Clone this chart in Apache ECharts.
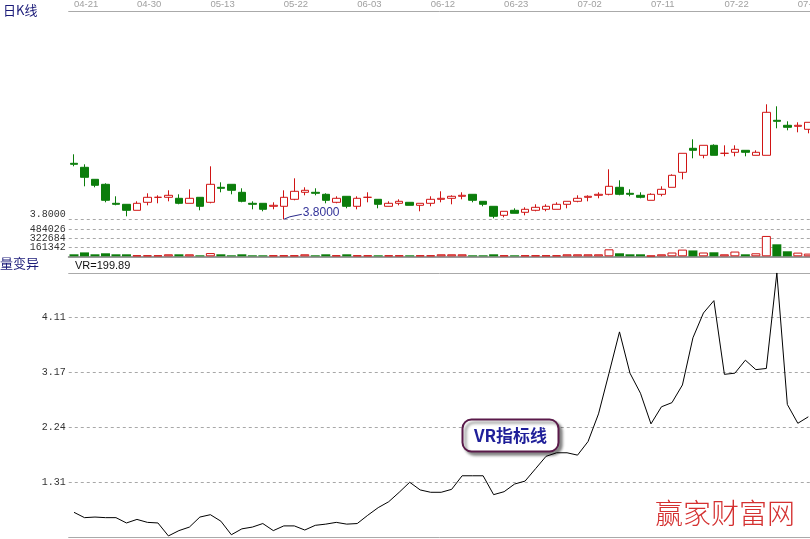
<!DOCTYPE html>
<html><head><meta charset="utf-8">
<script src="https://cdn.jsdelivr.net/npm/echarts@6/dist/echarts.min.js"></script>
<style>html,body{margin:0;padding:0;background:#fff}#c{width:810px;height:539px}</style>
</head><body><div id="c"></div>
<script>
const dates = ['04-21','04-22','04-23','04-25','04-28','04-29','04-30','05-05','05-06','05-07','05-08','05-09','05-12','05-13','05-14','05-15','05-16','05-19','05-20','05-21','05-22','05-23','05-26','05-27','05-28','05-29','05-30','06-03','06-04','06-05','06-06','06-09','06-10','06-11','06-12','06-13','06-16','06-17','06-18','06-19','06-20','06-23','06-24','06-25','06-26','06-27','06-30','07-01','07-02','07-03','07-04','07-07','07-08','07-09','07-10','07-11','07-14','07-15','07-16','07-17','07-18','07-21','07-22','07-23','07-24','07-25','07-28','07-29','07-30','07-31','08-01'];
const dateLabelIdx = [0,6,13,20,27,34,41,48,55,62,69];
const opens = [4.36,4.32,4.20,4.15,3.96,3.95,3.89,3.97,4.02,4.02,
4.01,3.96,4.02,3.97,4.12,4.15,4.07,3.96,3.96,3.93,
3.93,4.00,4.07,4.07,4.05,3.97,4.03,3.93,4.02,4.00,
3.93,3.96,3.97,3.94,3.96,4.00,4.01,4.03,4.05,3.98,
3.93,3.84,3.89,3.87,3.89,3.90,3.90,3.95,3.98,4.02,
4.04,4.05,4.12,4.06,4.04,3.99,4.05,4.12,4.27,4.51,
4.44,4.54,4.46,4.47,4.49,4.44,4.44,4.79,4.74,4.73,
4.70];
const closes = [4.35,4.22,4.14,3.99,3.95,3.89,3.96,4.02,4.02,4.04,
3.96,4.01,3.93,4.15,4.11,4.09,3.98,3.95,3.90,3.94,
4.02,4.08,4.09,4.06,3.99,4.01,3.93,4.01,4.02,3.95,
3.96,3.98,3.94,3.96,4.00,4.01,4.03,4.04,3.99,3.95,
3.83,3.88,3.86,3.90,3.92,3.93,3.95,3.98,4.01,4.03,
4.05,4.13,4.05,4.05,4.02,4.05,4.10,4.24,4.46,4.49,
4.54,4.44,4.46,4.50,4.47,4.47,4.87,4.78,4.72,4.74,
4.77];
const lows = [4.33,4.13,4.12,3.97,3.94,3.83,3.89,3.94,3.96,3.98,
3.95,3.96,3.89,3.96,4.07,4.05,3.97,3.90,3.88,3.90,
3.80,3.99,4.04,4.04,3.96,3.96,3.91,3.90,3.97,3.91,
3.93,3.94,3.94,3.88,3.93,3.97,3.95,4.00,3.97,3.93,
3.81,3.82,3.86,3.84,3.88,3.88,3.90,3.91,3.97,3.98,
4.01,4.04,4.04,4.03,4.01,3.99,4.03,4.12,4.20,4.41,
4.41,4.44,4.43,4.43,4.43,4.44,4.44,4.71,4.69,4.67,
4.66];
const highs = [4.45,4.35,4.20,4.16,4.03,3.95,3.98,4.06,4.04,4.09,
4.05,4.10,4.02,4.33,4.17,4.15,4.11,3.98,3.96,3.97,
4.09,4.21,4.12,4.11,4.06,4.03,4.03,4.03,4.07,4.00,
3.98,4.00,3.97,3.96,4.03,4.08,4.04,4.07,4.05,3.98,
3.93,3.88,3.91,3.92,3.95,3.95,3.97,3.98,4.04,4.04,
4.07,4.30,4.19,4.10,4.07,4.06,4.13,4.25,4.46,4.60,
4.54,4.55,4.54,4.54,4.49,4.49,4.95,4.93,4.78,4.77,
4.77];
const volumes = [36000,70000,36000,54000,36000,36000,18000,18000,18000,36000,
36000,36000,18000,58000,36000,18000,36000,18000,18000,18000,
18000,18000,36000,18000,36000,18000,36000,18000,18000,18000,
18000,18000,18000,18000,18000,36000,36000,36000,18000,18000,
36000,18000,18000,18000,18000,18000,18000,36000,36000,36000,
36000,125000,54000,36000,36000,12000,36000,68000,120000,105000,
68000,72000,36000,85000,36000,54000,365000,215000,90000,66000,
48000];
const vr = [0.80,0.71,0.72,0.71,0.71,0.62,0.68,0.63,0.62,0.40,
0.49,0.55,0.72,0.76,0.65,0.42,0.52,0.55,0.61,0.49,
0.57,0.57,0.50,0.58,0.60,0.63,0.60,0.61,0.75,0.88,
0.98,1.14,1.31,1.18,1.14,1.14,1.19,1.42,1.42,1.42,
1.10,1.15,1.28,1.33,1.54,1.75,1.81,1.81,1.77,2.00,
2.47,3.16,3.86,3.16,2.82,2.30,2.59,2.66,2.96,3.76,
4.18,4.39,3.14,3.16,3.38,3.22,3.24,4.86,2.63,2.31,
2.42];
const volTicks = [161342, 322684, 484026];
const volTickStep = 161342;
const volMax = 484026;
const vrMin = 0.37333, vrStep = 0.93333, vrMax = 4.8587;
const priceMin = 3.80, priceMax = 5.883;
const vrLabel = 'VR=199.89';

const RED = '#d01414', GREEN = '#0b7d0b';
const labelSet = new Set(dateLabelIdx);
const up = opens.map((o, i) => closes[i] > o || (closes[i] === o && (i === 0 || closes[i - 1] <= closes[i])));

const chart = echarts.init(document.getElementById('c'), null, {renderer: 'canvas'});
const GL = 68.76, GW = 744.8;
const dashed = {show: true, lineStyle: {type: [3, 3], color: '#a8a8a8', width: 1}};
const MONO = '10px "Liberation Mono", "DejaVu Sans Mono", monospace';
const monoLabel = {color: '#333', fontFamily: 'Liberation Mono, DejaVu Sans Mono, monospace', fontSize: 10, margin: 3};
const gridBase = {left: GL, width: GW, containLabel: false, outerBoundsMode: 'none'};

const option = {
  animation: false,
  backgroundColor: '#fff',
  grid: [
    Object.assign({top: 11, height: 208.3}, gridBase),
    Object.assign({top: 229.3, height: 27}, gridBase),
    Object.assign({top: 273, height: 264.5}, gridBase)
  ],
  xAxis: [
    {type: 'category', gridIndex: 0, data: dates, position: 'top', boundaryGap: true,
     axisLine: {lineStyle: {color: '#aaaaaa', width: 1}}, axisTick: {show: false},
     axisLabel: {interval: (i) => labelSet.has(i), color: '#a0a0a0', fontSize: 9.5,
       fontFamily: 'Liberation Sans Narrow, Liberation Sans, Arial', align: 'left', margin: 2},
     splitLine: {show: false}},
    {type: 'category', gridIndex: 1, data: dates, position: 'bottom',
     axisLine: {lineStyle: {color: '#999999', width: 2}}, axisTick: {show: false}, axisLabel: {show: false}},
    {type: 'category', gridIndex: 2, data: dates, position: 'top',
     axisLine: {lineStyle: {color: '#aaaaaa', width: 1}}, axisTick: {show: false}, axisLabel: {show: false}},
    {type: 'category', gridIndex: 2, data: dates, position: 'bottom',
     axisLine: {lineStyle: {color: '#aaaaaa', width: 1}}, axisTick: {show: false}, axisLabel: {show: false}}
  ],
  yAxis: [
    {type: 'value', gridIndex: 0, min: priceMin, max: priceMax, interval: 5,
     axisLine: {show: false}, axisTick: {show: false},
     axisLabel: Object.assign({}, monoLabel, {showMaxLabel: false, verticalAlign: 'bottom',
       formatter: (v) => v.toFixed(4)}),
     splitLine: dashed},
    {type: 'value', gridIndex: 1, min: 0, max: volMax, interval: volTickStep,
     axisLine: {show: false}, axisTick: {show: false}, axisLabel: {show: false},
     splitLine: dashed},
    {type: 'value', gridIndex: 2, min: vrMin, max: vrMax, interval: vrStep,
     axisLine: {show: false}, axisTick: {show: false},
     axisLabel: Object.assign({}, monoLabel, {showMinLabel: false, showMaxLabel: false,
       formatter: (v) => v.toFixed(2)}),
     splitLine: dashed}
  ],
  series: [
    {type: 'candlestick', xAxisIndex: 0, yAxisIndex: 0, barWidth: 8,
     data: opens.map((o, i) => [o, closes[i], lows[i], highs[i]]),
     itemStyle: {color: '#ffffff', color0: GREEN, borderColor: RED, borderColor0: GREEN, borderWidth: 1}},
    {type: 'bar', xAxisIndex: 1, yAxisIndex: 1, barWidth: 9,
     data: volumes.map((v, i) => ({value: v, itemStyle: up[i]
       ? {color: '#ffffff', borderColor: RED, borderWidth: 1}
       : {color: GREEN, borderWidth: 0}}))},
    {type: 'line', xAxisIndex: 2, yAxisIndex: 2, data: vr, showSymbol: false, symbol: 'none',
     lineStyle: {color: '#000', width: 1}}
  ],
  graphic: [
    {type: 'text', id: 'tk', left: 3, top: 4, style: {text: '日K线', fill: '#1a1a78', font: '13px "Noto Sans CJK SC"'}},
    {type: 'text', id: 'tv', left: 0, top: 257, style: {text: '量变异', fill: '#1a1a78', font: '13px "Noto Sans CJK SC"'}},
    {type: 'text', id: 'tvr', left: 75, top: 260, style: {text: vrLabel, fill: '#111', font: '11px "Liberation Sans", Arial'}},
    {type: 'rect', id: 'cb', shape: {x: 462.5, y: 419.5, width: 96, height: 32, r: 9},
     style: {fill: '#fff', stroke: '#5a1a4a', lineWidth: 2, shadowBlur: 3, shadowOffsetX: 3, shadowOffsetY: 3, shadowColor: 'rgba(0,0,0,0.45)'}, z: 100},
    {type: 'text', id: 'ct', x: 510.5, y: 435.5, z: 101,
     style: {text: 'VR指标线', fill: '#1f1f99', font: 'bold 17px "Noto Sans CJK SC"', align: 'center', verticalAlign: 'middle'}},
    {type: 'text', id: 'wm', left: 655, top: 499, z: 100,
     style: {text: '赢家财富网', fill: '#d43030', font: '300 28px "Noto Sans CJK SC"'}}
  ]
};
chart.setOption(option);

// volume tick labels, placed through the volume axis scale
const extra = volTicks.map((v, k) => {
  const y = chart.convertToPixel({yAxisIndex: 1}, v);
  return {type: 'text', id: 'vt' + k, x: GL - 3, y: y, z: 60,
    style: {text: String(v), fill: '#333', font: MONO, align: 'right', verticalAlign: 'middle'}};
});

// annotation at the lowest low
let minIdx = 0;
lows.forEach((v, i) => { if (v < lows[minIdx]) minIdx = i; });
const p = chart.convertToPixel({xAxisIndex: 0, yAxisIndex: 0}, [minIdx, lows[minIdx]]);
extra.push(
  {type: 'polyline', id: 'al', shape: {points: [[p[0], p[1]], [p[0] + 6, p[1] - 2.5], [p[0] + 18, p[1] - 5]]},
   style: {stroke: '#2a2a8a', lineWidth: 1, fill: null}, z: 50},
  {type: 'text', id: 'at', x: p[0] + 19, y: p[1] - 6.5, z: 50,
   style: {text: lows[minIdx].toFixed(4), fill: '#333399', font: '12px "Liberation Sans", Arial', verticalAlign: 'middle'}}
);
chart.setOption({graphic: extra});
</script>
</body></html>
